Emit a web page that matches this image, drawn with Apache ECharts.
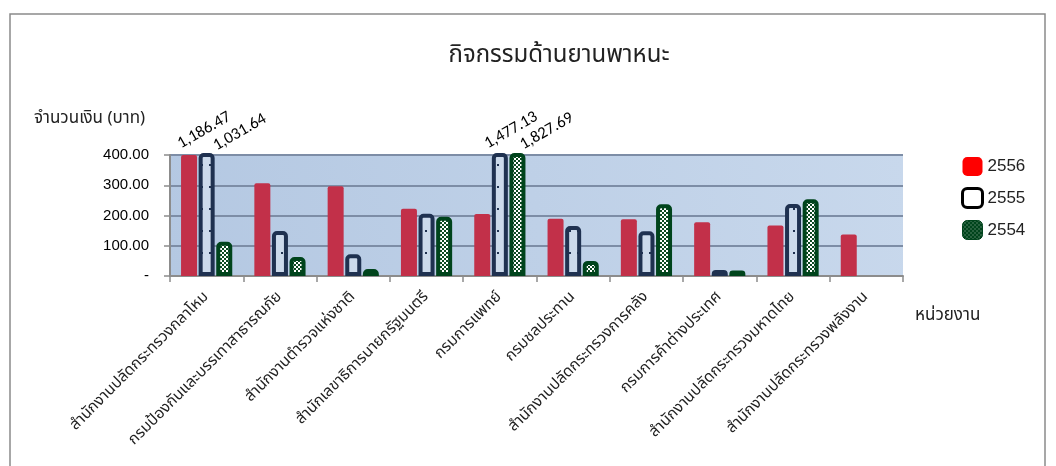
<!DOCTYPE html>
<html><head><meta charset="utf-8">
<script src="https://cdn.jsdelivr.net/npm/echarts@6/dist/echarts.min.js"></script>
<style>html,body{margin:0;padding:0;background:#fff;}#c{width:1056px;height:466px;}</style>
</head><body><div id="c"></div>
<script>
const categories = [
  'สำนักงานปลัดกระทรวงกลาโหม',
  'กรมป้องกันและบรรเทาสาธารณภัย',
  'สำนักงานตำรวจแห่งชาติ',
  'สำนักเลขาธิการนายกรัฐมนตรี',
  'กรมการแพทย์',
  'กรมชลประทาน',
  'สำนักงานปลัดกระทรวงการคลัง',
  'กรมการค้าต่างประเทศ',
  'สำนักงานปลัดกระทรวงมหาดไทย',
  'สำนักงานปลัดกระทรวงพลังงาน'
];
const seriesNames = ['2556', '2555', '2554'];
const values2556 = [1186.47, 307, 297, 222, 205, 189, 188, 178, 167, 137];
const values2555 = [1031.64, 149, 72, 206, 1477.13, 165, 148, 20, 238, null];
const values2554 = [113, 63, 23, 196, 1827.69, 50, 237, 18, 254, null];
const yTicks = [0, 100, 200, 300, 400];

const yMax = yTicks[yTicks.length - 1];

function pattern(w, h, draw) {
  const c = document.createElement('canvas');
  c.width = w; c.height = h;
  draw(c.getContext('2d'));
  return { image: c, repeat: 'repeat' };
}
const navyFill = pattern(8, 22, g => {
  g.fillStyle = '#ccdaeb'; g.fillRect(0, 0, 8, 22);
  g.fillStyle = '#1f3150'; g.fillRect(1, 10, 2, 2);
});
const greenFill = pattern(4, 4, g => {
  g.fillStyle = '#0d4a22'; g.fillRect(0, 0, 4, 4);
  g.fillStyle = '#ffffff'; g.fillRect(0, 0, 2, 2); g.fillRect(2, 2, 2, 2);
});
const legendGreen = pattern(4, 4, g => {
  g.fillStyle = '#00441c'; g.fillRect(0, 0, 4, 4);
  g.fillStyle = '#9fb9a5'; g.fillRect(0, 0, 1, 1); g.fillRect(2, 2, 1, 1);
});

const fmt = v => v.toLocaleString('en-US', { minimumFractionDigits: 2, maximumFractionDigits: 2 });

// screen shifts (px) of labels for values exceeding the axis max, converted into the rotated label frame
const labelRot = 30;
const overShifts = { '2556': [[-10, -10]], '2555': [[8, -6], [-14, -8]], '2554': [[4, -7]] };
function toLabelFrame(s) {
  const a = labelRot * Math.PI / 180, c = Math.cos(a), n = Math.sin(a);
  return [c * s[0] - n * s[1], n * s[0] + c * s[1]];
}

function buildData(vals, name) {
  let k = 0;
  return vals.map(v => {
    if (v != null && v > yMax) {
      const s = overShifts[name][k++];
      return { value: v, label: { show: true, offset: toLabelFrame(s) } };
    }
    return v;
  });
}

const labelBase = {
  show: false, position: 'top', rotate: labelRot, align: 'left', verticalAlign: 'middle', distance: 0,
  fontFamily: 'Carlito, Calibri, "Liberation Sans", Arial, sans-serif', fontSize: 16.5, color: '#000',
  formatter: p => (p.value > yMax ? fmt(p.value) : '')
};

const thaiFont = '"Noto Sans Thai", "Noto Sans Thai Looped", Tahoma, "DejaVu Sans", "Noto Sans", sans-serif';

const chart = echarts.init(document.getElementById('c'), null, { renderer: 'canvas' });
chart.setOption({
  animation: false,
  backgroundColor: '#ffffff',
  title: {
    text: 'กิจกรรมด้านยานพาหนะ', left: 559, top: 45, textAlign: 'center', padding: 0,
    textStyle: { fontFamily: thaiFont, fontSize: 24, fontWeight: 'normal', color: '#222' }
  },
  graphic: [
    { type: 'rect', shape: { x: 10, y: 14, width: 1035, height: 480 }, style: { fill: 'none', stroke: '#8a8a8a', lineWidth: 1.5 }, silent: true, z: -10 },
    { type: 'text', left: 34, top: 111, style: { text: 'จำนวนเงิน (บาท)', font: '17px ' + thaiFont, fill: '#222' } },
    { type: 'text', left: 915, top: 308, style: { text: 'หน่วยงาน', font: '17px ' + thaiFont, fill: '#222' } }
  ],
  legend: {
    orient: 'vertical', left: 961, top: 157, padding: 0, itemWidth: 20, itemHeight: 19, itemGap: 11,
    icon: 'roundRect',
    textStyle: { fontFamily: '"Liberation Sans", Arial, sans-serif', fontSize: 17, color: '#222' },
    data: [
      { name: seriesNames[0], itemStyle: { color: '#ff0000', borderWidth: 0 } },
      { name: seriesNames[1], itemStyle: { color: '#ffffff', borderColor: '#000000', borderWidth: 3 } },
      { name: seriesNames[2], itemStyle: { color: legendGreen, borderColor: '#00441c', borderWidth: 1 } }
    ]
  },
  grid: {
    left: 170, right: 153, top: 155, bottom: 190, show: true, borderWidth: 0,
    backgroundColor: new echarts.graphic.LinearGradient(0, 1, 1, 0, [
      { offset: 0, color: '#b4c8e2' }, { offset: 1, color: '#c8d8ec' }
    ])
  },
  xAxis: {
    type: 'category', data: categories,
    axisLine: { lineStyle: { color: '#8c8c8c', width: 2 } },
    axisTick: { show: true, alignWithLabel: false, length: 6, lineStyle: { color: '#8c8c8c', width: 1.5 } },
    axisLabel: { interval: 0, rotate: 45, fontFamily: thaiFont, fontSize: 15.5, color: '#222', margin: 19 }
  },
  yAxis: {
    type: 'value', min: 0, max: yMax, interval: 100,
    axisLine: { show: true, lineStyle: { color: '#8c8c8c', width: 2 } },
    axisTick: { show: true, length: 6, lineStyle: { color: '#8c8c8c', width: 1.5 } },
    splitLine: { lineStyle: { color: '#7d8da6', width: 2 } },
    axisLabel: {
      fontFamily: '"Liberation Sans", Arial, sans-serif', fontSize: 15, color: '#000', margin: 21,
      formatter: v => (v === 0 ? '-' : fmt(v))
    }
  },
  series: [
    {
      name: seriesNames[0], type: 'bar', barWidth: 16, barGap: '10%', clip: true,
      itemStyle: { color: '#c23049', borderRadius: [2, 2, 0, 0] },
      label: labelBase,
      data: buildData(values2556, seriesNames[0])
    },
    {
      name: seriesNames[1], type: 'bar', barWidth: 16, barGap: '10%', clip: true,
      itemStyle: { color: navyFill, borderColor: '#1f3150', borderWidth: 4, borderRadius: [3, 3, 0, 0] },
      label: labelBase,
      data: buildData(values2555, seriesNames[1])
    },
    {
      name: seriesNames[2], type: 'bar', barWidth: 16, barGap: '10%', clip: true,
      itemStyle: { color: greenFill, borderColor: '#00441c', borderWidth: 4, borderRadius: [3, 3, 0, 0] },
      label: labelBase,
      data: buildData(values2554, seriesNames[2])
    }
  ]
});
</script></body></html>
